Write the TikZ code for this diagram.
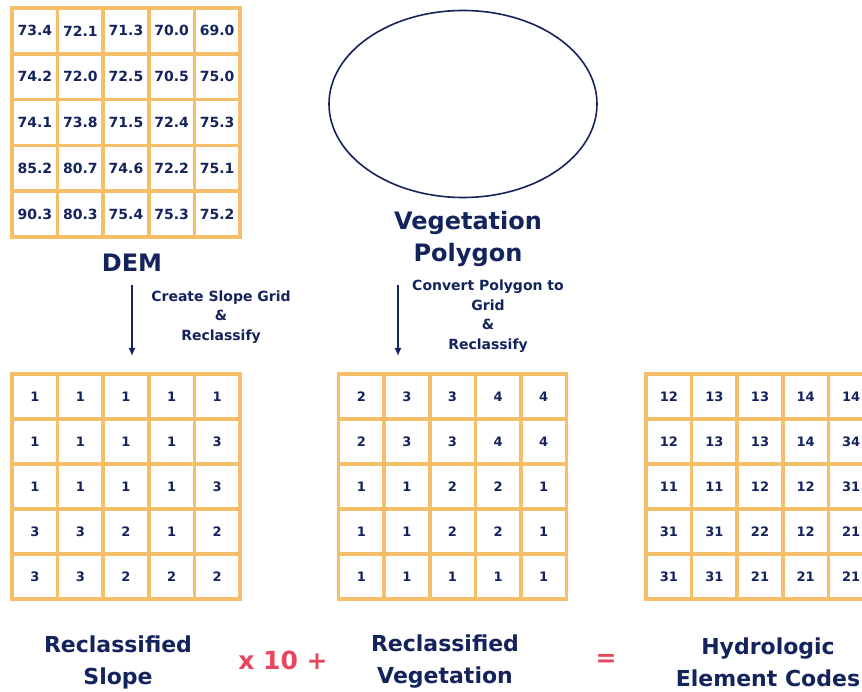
\documentclass[tikz,border=0pt]{standalone}
\usepackage{fontspec}
\setmainfont{DejaVu Sans}
\usetikzlibrary{arrows.meta,shapes.geometric}
\definecolor{navy}{HTML}{14235C}
\definecolor{gridorange}{HTML}{F5BF6A}
\definecolor{opred}{HTML}{E8455F}

\newcommand{\mygrid}[6]{% name, x0, y0, cell height, number style, rows
  \foreach \rowvals [count=\r from 0] in {#6} {
    \foreach \v [count=\c from 0] in \rowvals {
      \node[#5] (#1-\r-\c) at ({#2+(\c+0.5)*45.6},{#3+(\r+0.5)*#4}) {\v};
    }
  }
  \foreach \i in {0,...,5} {
    \draw[gridline] ({#2+\i*45.6},#3) -- ({#2+\i*45.6},{#3+5*#4});
    \draw[gridline] (#2,{#3+\i*#4}) -- ({#2+5*45.6},{#3+\i*#4});
  }
}

\begin{document}
\begin{tikzpicture}[x=1pt,y=-1pt,
  gridline/.style={draw=gridorange, line width=3.6pt, line cap=rect},
  demnum/.style={text=navy, font=\fontsize{14}{17}\selectfont\bfseries, inner sep=0pt},
  codenum/.style={text=navy, font=\fontsize{13}{16}\selectfont\bfseries, inner sep=0pt},
  biglabel/.style={text=navy, font=\fontsize{24}{32}\selectfont\bfseries, align=center, inner sep=0pt},
  bottomlabel/.style={text=navy, font=\fontsize{22}{32}\selectfont\bfseries, align=center, inner sep=0pt},
  steplabel/.style={text=navy, font=\fontsize{14}{19.5}\selectfont\bfseries, align=center, inner sep=0pt},
  oplabel/.style={text=opred, font=\fontsize{25}{32}\selectfont\bfseries, inner sep=0pt},
  flowarrow/.style={draw=navy, line width=1.5pt, -{Latex[length=8pt,width=7pt]}},
  polygon/.style={draw=navy, line width=1.6pt, ellipse, minimum width=268pt, minimum height=187pt, inner sep=0pt}
]
\useasboundingbox (0,0) rectangle (862,692);
\clip (0,0) rectangle (862,692);
\fill[white] (0,0) rectangle (862,692);

% DEM grid
\mygrid{dem}{12}{8}{45.8}{demnum}{{73.4,72.1,71.3,70.0,69.0},{74.2,72.0,72.5,70.5,75.0},{74.1,73.8,71.5,72.4,75.3},{85.2,80.7,74.6,72.2,75.1},{90.3,80.3,75.4,75.3,75.2}}

% Vegetation polygon
\node[polygon] (poly) at (463,104) {};

% labels
\node[biglabel] (demlabel) at (132,263) {DEM};
\node[biglabel] (veglabel) at (468,239) {Vegetation\\Polygon};

% arrows
\coordinate (a1s) at (132,285);
\coordinate (a1e) at (132,356);
\coordinate (a2s) at (398,285);
\coordinate (a2e) at (398,356);
\draw[flowarrow] (a1s) -- (a1e);
\draw[flowarrow] (a2s) -- (a2e);
\node[steplabel] (step1) at (221,317) {Create Slope Grid\\\&\\Reclassify};
\node[steplabel] (step2) at (488,316) {Convert Polygon to\\Grid\\\&\\Reclassify};

% lower grids
\mygrid{slope}{12}{374}{45}{codenum}{{1,1,1,1,1},{1,1,1,1,3},{1,1,1,1,3},{3,3,2,1,2},{3,3,2,2,2}}
\mygrid{veg}{338.5}{374}{45}{codenum}{{2,3,3,4,4},{2,3,3,4,4},{1,1,2,2,1},{1,1,2,2,1},{1,1,1,1,1}}
\mygrid{hec}{646}{374}{45}{codenum}{{12,13,13,14,14},{12,13,13,14,34},{11,11,12,12,31},{31,31,22,12,21},{31,31,21,21,21}}

% bottom labels
\node[bottomlabel] (slopelabel) at (118,662) {Reclassified\\Slope};
\node[oplabel] (times) at (283,660) {x 10 +};
\node[bottomlabel] (reveglabel) at (445,662) {Reclassified\\Vegetation};
\node[oplabel] (equals) at (606,660) {=};
\node[bottomlabel] (heclabel) at (768,662) {Hydrologic\\Element Codes};
\end{tikzpicture}
\end{document}
